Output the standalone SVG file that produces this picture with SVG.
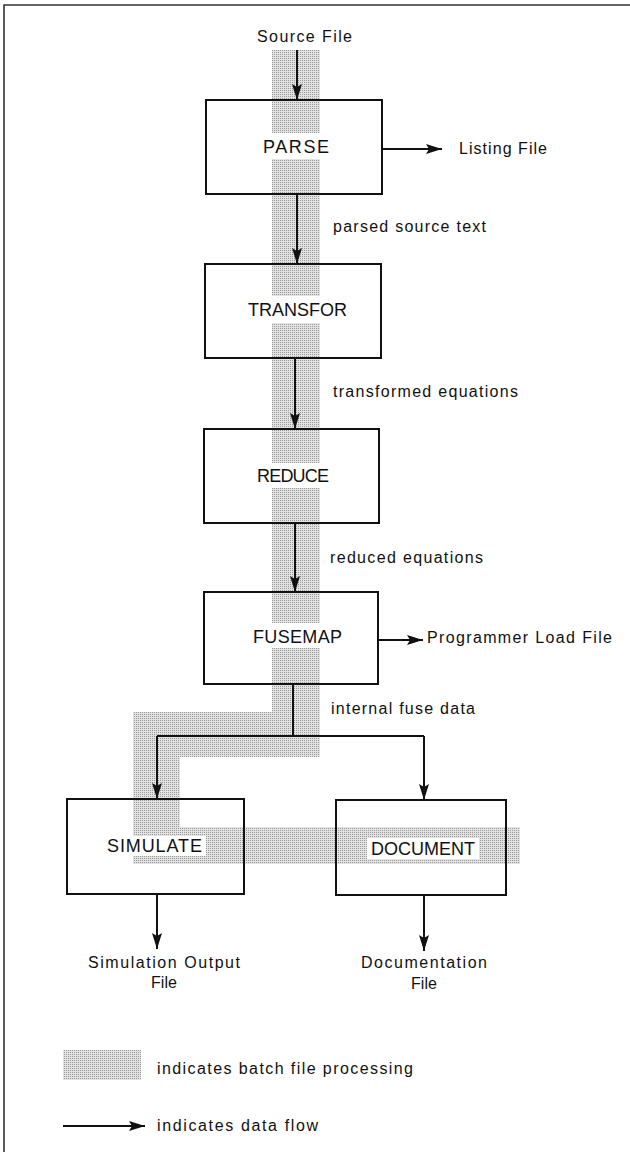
<svg xmlns="http://www.w3.org/2000/svg" width="630" height="1152" viewBox="0 0 630 1152">
  <style>
    .box { fill: none; stroke: #111; stroke-width: 2; }
    .name { font-family: "Liberation Sans", Arial, sans-serif; font-size: 18px; fill: #111; }
    .lbl { font-family: "Liberation Sans", Arial, sans-serif; font-size: 16px; fill: #111; }
    .flow { fill: none; stroke: #111; stroke-width: 2; }
    .arr { marker-end: url(#head); }
    .shade { fill: url(#dots); }
  </style>
  <defs>
    <!-- fine halftone screen used for the batch-processing band -->
    <pattern id="dots" x="0" y="0" width="2" height="2" patternUnits="userSpaceOnUse">
      <rect width="2" height="2" fill="#e2e2e2"/>
      <rect width="1" height="1" fill="#9a9a9a"/>
    </pattern>
    <marker id="head" markerUnits="userSpaceOnUse" markerWidth="16" markerHeight="10" refX="16" refY="5" orient="auto">
      <path d="M0,0 L16,5 L0,10 L3,5 z" fill="#111"/>
    </marker>
  </defs>

  <rect width="630" height="1152" fill="#fff"/>

  <!-- page frame -->
  <g id="frame" fill="none" stroke="#333" stroke-width="1.6">
    <path d="M630,5 H4 V1152"/>
  </g>

  <!-- batch file processing path -->
  <g id="batch-path" class="shade">
    <rect x="272" y="50" width="48" height="83"/>
    <rect x="272" y="159" width="48" height="137"/>
    <rect x="272" y="323" width="48" height="140"/>
    <rect x="272" y="488" width="48" height="135"/>
    <rect x="272" y="648" width="48" height="109"/>
    <rect x="133" y="712" width="139" height="45"/>
    <rect x="133" y="757" width="47" height="70"/>
    <path d="M133,827 H520 V864 H133 Z M133,836 V856 H206 V836 Z M367,838 V859 H479 V838 Z" fill-rule="evenodd"/>
  </g>

  <!-- data flow connectors -->
  <g id="connectors" class="flow">
    <path class="arr" d="M297,50 V100"/>
    <path class="arr" d="M382,149 H442"/>
    <path class="arr" d="M297,194 V264"/>
    <path class="arr" d="M295,358 V429"/>
    <path class="arr" d="M295,523 V592"/>
    <path class="arr" d="M378,640 H423"/>
    <path d="M293,684 V736 M157,736 H424"/>
    <path class="arr" d="M157,736 V799"/>
    <path class="arr" d="M424,736 V800"/>
    <path class="arr" d="M157,894 V949"/>
    <path class="arr" d="M424,895 V951"/>
  </g>

  <!-- process steps -->
  <g id="parse">
    <rect class="box" x="206" y="100" width="176" height="94"/>
    <text class="name" x="263" y="153" textLength="66" lengthAdjust="spacing">PARSE</text>
  </g>
  <g id="transfor">
    <rect class="box" x="205" y="264" width="176" height="94"/>
    <text class="name" x="248" y="316" textLength="99" lengthAdjust="spacing">TRANSFOR</text>
  </g>
  <g id="reduce">
    <rect class="box" x="204" y="429" width="175" height="94"/>
    <text class="name" x="257" y="482" textLength="72" lengthAdjust="spacing">REDUCE</text>
  </g>
  <g id="fusemap">
    <rect class="box" x="204" y="592" width="174" height="92"/>
    <text class="name" x="253" y="643" textLength="89" lengthAdjust="spacing">FUSEMAP</text>
  </g>
  <g id="simulate">
    <rect class="box" x="67" y="799" width="177" height="95"/>
    <text class="name" x="107" y="852" textLength="95" lengthAdjust="spacing">SIMULATE</text>
  </g>
  <g id="document">
    <rect class="box" x="336" y="800" width="170" height="95"/>
    <text class="name" x="371" y="855" textLength="104" lengthAdjust="spacing">DOCUMENT</text>
  </g>

  <!-- files and data labels -->
  <g id="labels" class="lbl">
    <text x="257" y="42" textLength="95" lengthAdjust="spacing">Source File</text>
    <text x="459" y="154" textLength="88" lengthAdjust="spacing">Listing File</text>
    <text x="333" y="232" textLength="153" lengthAdjust="spacing">parsed source text</text>
    <text x="333" y="397" textLength="185" lengthAdjust="spacing">transformed equations</text>
    <text x="330" y="563" textLength="153" lengthAdjust="spacing">reduced equations</text>
    <text x="427" y="643" textLength="185" lengthAdjust="spacing">Programmer Load File</text>
    <text x="331" y="714" textLength="144" lengthAdjust="spacing">internal fuse data</text>
    <text x="88" y="968" textLength="152" lengthAdjust="spacing">Simulation Output</text>
    <text x="151" y="988" textLength="26" lengthAdjust="spacing">File</text>
    <text x="361" y="968" textLength="126" lengthAdjust="spacing">Documentation</text>
    <text x="411" y="989" textLength="26" lengthAdjust="spacing">File</text>
  </g>

  <!-- key -->
  <g id="legend">
    <rect class="shade" x="63" y="1050" width="78" height="30"/>
    <text class="lbl" x="157" y="1074" textLength="256" lengthAdjust="spacing">indicates batch file processing</text>
    <path class="flow arr" d="M63,1126 H145"/>
    <text class="lbl" x="157" y="1131" textLength="161" lengthAdjust="spacing">indicates data flow</text>
  </g>
</svg>
